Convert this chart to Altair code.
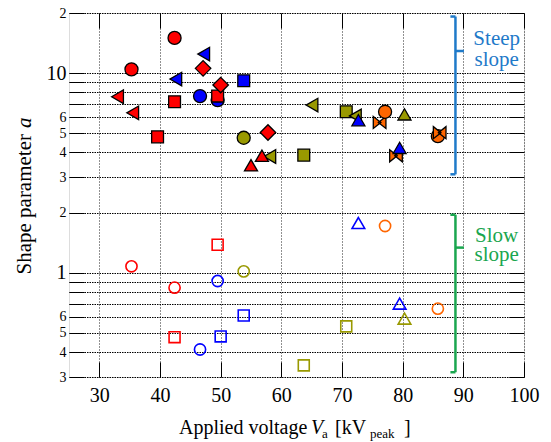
import altair as alt
import pandas as pd

# ---------------- data ----------------
# Steep-slope group (filled markers with black outline)
steep_v = [42.4, 35.3, 47.2, 47.1, 42.6, 53.8, 33.0, 42.4, 46.6, 49.5, 49.5, 35.5,
           39.6, 53.8, 57.8, 55.0, 58.1, 56.8, 65.05, 70.7, 72.2, 72.7, 76.2, 77.1,
           80.3, 85.8, 86.1, 78.9, 79.5, 63.7, 50.0]
steep_a = [15.0, 10.44, 12.45, 10.56, 9.33, 9.15, 7.61, 7.18, 7.67, 7.32, 7.67, 6.32,
           4.79, 4.74, 5.04, 3.45, 3.82, 3.85, 6.91, 6.40, 6.10, 5.81, 5.66, 6.40,
           6.21, 4.83, 5.03, 3.85, 4.22, 3.88, 8.71]
steep_color = ["red", "red", "blue", "red", "blue", "blue", "red", "red", "blue", "blue", "red", "red",
               "red", "olive", "red", "red", "olive", "red", "olive", "olive", "olive", "blue", "orange", "orange",
               "olive", "orange", "orange", "orange", "blue", "olive", "red"]
steep_shape = ["circle", "circle", "tri-left", "diamond", "tri-left", "square", "tri-left", "square", "circle", "circle", "square", "tri-left",
               "square", "circle", "diamond", "tri-up", "tri-left", "tri-up", "tri-left", "square", "tri-left", "tri-up", "bowtie", "circle",
               "tri-up", "circle", "bowtie", "bowtie", "tri-up", "square", "diamond"]

# Slow-slope group (open markers)
slow_v = [49.5, 35.3, 53.8, 49.5, 42.4, 53.8, 42.4, 50.0, 46.6, 72.7, 77.1, 79.5, 85.8, 80.3, 70.7, 63.7]
slow_a = [1.38, 1.076, 1.015, 0.908, 0.841, 0.610, 0.475, 0.479, 0.412, 1.774, 1.713, 0.699, 0.660, 0.588, 0.538, 0.343]
slow_color = ["red", "red", "olive", "blue", "red", "blue", "red", "blue", "blue", "blue", "orange", "blue", "orange", "olive", "olive", "olive"]
slow_shape = ["square", "circle", "circle", "circle", "circle", "square", "square", "square", "circle", "tri-up", "circle", "tri-up", "circle", "tri-up", "square", "square"]

# axis ticks / labels
x_ticks = [30, 40, 50, 60, 70, 80, 90, 100]
y_ticks = [0.3, 0.4, 0.5, 0.6, 0.7, 0.8, 0.9, 1, 2, 3, 4, 5, 6, 7, 8, 9, 10, 20]
y_labels = ["3", "4", "5", "6", "", "", "", "1", "2", "3", "4", "5", "6", "", "", "", "10", "2"]

# bracket annotations
groups = ["Steep", "Slow"]
group_top = [19.2, 1.95]
group_mid = [12.9, 1.335]
group_bot = [3.11, 0.317]
group_lines = [["Steep", "slope"], ["Slow", "slope"]]
group_text_y = [13.9, 1.424]

# ---------------- styling ----------------
FONT = "Liberation Serif, Times New Roman, serif"
color_domain = ["red", "blue", "olive", "orange"]
color_range = ["#ff0000", "#0000ff", "#999900", "#ff6600"]
shape_domain = ["circle", "square", "diamond", "tri-up", "tri-left", "bowtie"]
BOWTIE = "M-1,-0.95L0.2,0L-1,0.95Z M1,-0.95L-0.2,0L1,0.95Z"
shape_range = ["circle", "square", "diamond", "triangle-up", "triangle-left", BOWTIE]
bracket_colors = ["#1f7ac9", "#1aa64f"]

xscale = alt.Scale(domain=[25, 100], nice=False, zero=False)
yscale = alt.Scale(type="log", domain=[0.3, 20], nice=False)

steep = pd.DataFrame({"v": steep_v, "a": steep_a, "c": steep_color, "s": steep_shape})
slow = pd.DataFrame({"v": slow_v, "a": slow_a, "c": slow_color, "s": slow_shape})

label_expr = ""
for val, lab in zip(y_ticks, y_labels):
    if lab in ("10", "1"):
        lab = lab + "\u00a0"
    label_expr += f"datum.value == {val} ? '{lab}' : "
label_expr += "''"

x_axis_main = alt.Axis(values=x_ticks, orient="bottom", offset=-15, tickSize=15, tickColor="black",
                       tickWidth=1, domain=False, grid=True, gridDash=[1, 2], gridColor="#222",
                       gridWidth=1, labelFont=FONT, labelFontSize=20, labelColor="black",
                       labelPadding=8, labelFlush=False, labelOverlap=False, title=None)
y_axis_main = alt.Axis(values=y_ticks, orient="left", offset=-15, tickSize=15, tickColor="black",
                       tickWidth=1, domain=False, grid=True, gridDash=[1.5, 1], gridColor="#000",
                       gridWidth=1, labelFont=FONT, labelColor="black",
                       labelFontSize={"condition": {"test": "datum.value == 10 || datum.value == 1", "value": 20}, "value": 14},
                       labelExpr=label_expr, labelPadding=3, labelOverlap=False, labelFlush=False,
                       labelBound=False, title=None)
x_axis_top = alt.Axis(values=x_ticks, orient="top", offset=-15, tickSize=15, tickColor="black",
                      tickWidth=1, domain=False, grid=False, labels=False, title=None)
y_axis_right = alt.Axis(values=y_ticks, orient="right", offset=-15, tickSize=15, tickColor="black",
                        tickWidth=1, domain=False, grid=False, labels=False, title=None)

steep_layer = alt.Chart(steep).mark_point(filled=True, opacity=1, stroke="black", strokeWidth=1.3).encode(
    x=alt.X("v:Q", scale=xscale, axis=x_axis_main),
    y=alt.Y("a:Q", scale=yscale, axis=y_axis_main),
    fill=alt.Fill("c:N", scale=alt.Scale(domain=color_domain, range=color_range), legend=None),
    shape=alt.Shape("s:N", scale=alt.Scale(domain=shape_domain, range=shape_range), legend=None),
    size=alt.Size("s:N", scale=alt.Scale(type="ordinal", domain=shape_domain,
                                         range=[170, 140, 240, 170, 185, 160]), legend=None),
)

slow_layer = alt.Chart(slow).mark_point(filled=False, opacity=1, strokeWidth=1.6).encode(
    x=alt.X("v:Q", scale=xscale, axis=x_axis_top),
    y=alt.Y("a:Q", scale=yscale, axis=y_axis_right),
    stroke=alt.Stroke("c:N", scale=alt.Scale(domain=color_domain, range=color_range), legend=None),
    shape=alt.Shape("s:N", scale=alt.Scale(domain=shape_domain, range=shape_range), legend=None),
    size=alt.Size("s:N", scale=alt.Scale(type="ordinal", domain=shape_domain,
                                         range=[125, 120, 150, 160, 150, 140]), legend=None),
)

# brackets
bx_line, bx_end, bx_mid = 88.7, 87.87, 90.1
seg_rows = []
for g, t, m, b in zip(groups, group_top, group_mid, group_bot):
    seg_rows.append({"g": g, "x": bx_line, "x2": bx_line, "y": t, "y2": b})
    seg_rows.append({"g": g, "x": bx_end, "x2": bx_line, "y": t, "y2": t})
    seg_rows.append({"g": g, "x": bx_end, "x2": bx_line, "y": b, "y2": b})
    seg_rows.append({"g": g, "x": bx_line, "x2": bx_mid, "y": m, "y2": m})
segs = pd.DataFrame(seg_rows)
gcolor = alt.Color("g:N", scale=alt.Scale(domain=groups, range=bracket_colors), legend=None)

bracket_layer = alt.Chart(segs).mark_rule(strokeWidth=2.5).encode(
    x=alt.X("x:Q", scale=xscale, axis=None), x2="x2:Q",
    y=alt.Y("y:Q", scale=yscale, axis=None), y2="y2:Q",
    color=gcolor,
)

group_text_layers = []
for g, lines, ty, lh in zip(groups, group_lines, group_text_y, [21, 19]):
    df = pd.DataFrame({"g": [g], "t": [lines], "x": [95.5], "y": [ty]})
    group_text_layers.append(
        alt.Chart(df).mark_text(font=FONT, fontSize=21, align="center", baseline="alphabetic",
                                lineHeight=lh).encode(
            x=alt.X("x:Q", scale=xscale, axis=None),
            y=alt.Y("y:Q", scale=yscale, axis=None),
            text="t",
            color=gcolor,
        )
    )

# axis titles assembled from pieces (italic symbol, subscripts)
def piece(text, px, py, size, style="normal", angle=0, align="left"):
    df = pd.DataFrame({"t": [text], "px": [px], "py": [py]})
    return alt.Chart(df).mark_text(font=FONT, fontSize=size, fontStyle=style, angle=angle,
                                   align=align, baseline="alphabetic", color="black").encode(
        x=alt.X("px:Q", scale=None, axis=None),
        y=alt.Y("py:Q", scale=None, axis=None),
        text="t:N",
    )

title_layers = [
    piece("Applied voltage", 110, 421, 20),
    piece("V", 242, 421, 20, "italic"),
    piece("a", 253, 425, 13),
    piece("[kV", 266, 421, 20),
    piece("peak", 301, 425, 13),
    piece("]", 335, 421, 20),
    piece("Shape parameter", -38, 121, 21, angle=270, align="right"),
    piece("a", -38, 115, 21, "italic", angle=270, align="left"),
]

chart = alt.layer(
    steep_layer, slow_layer, bracket_layer, *group_text_layers, *title_layers
).resolve_axis(
    x="independent", y="independent"
).resolve_scale(
    size="independent"
).properties(
    width=455, height=364,
    autosize=alt.AutoSizeParams(type="none"),
    padding={"left": 69, "top": 13, "right": 27, "bottom": 65},
).configure_view(
    stroke="black", strokeWidth=1.8
).configure_axis(
    labelFont=FONT
).configure_text(
    font=FONT
).configure(background="white")

chart.save("out.html", embed_options={"renderer": "svg", "actions": False})
